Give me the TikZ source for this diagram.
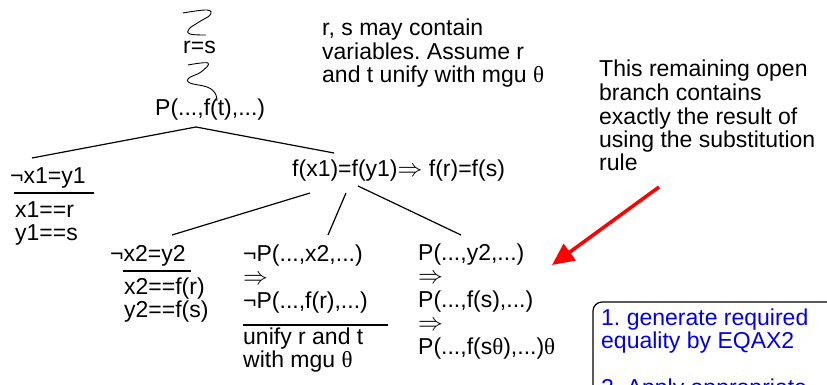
\documentclass[tikz,border=0pt]{standalone}
\usepackage{fontspec}
\setmainfont{Liberation Sans}
\newfontfamily\thetafont{Liberation Serif}
\usetikzlibrary{arrows.meta}
\definecolor{notecol}{HTML}{0000E6}
\definecolor{arrowcol}{HTML}{FF0000}
\newcommand{\thet}{{\thetafont θ}}
\newcommand{\imp}{$\Rightarrow$}
\frenchspacing

\begin{document}
\begin{tikzpicture}[x=1pt,y=-1pt,
  every node/.style={inner sep=0pt,font=\fontsize{23}{23.5}\selectfont},
  lbl/.style={anchor=base west,align=left},
  branch/.style={line width=1.2pt},
  rulebar/.style={line width=2pt},
  squig/.style={line width=0.9pt}]
\useasboundingbox (0,0) rectangle (827,385);
\clip (0,0) rectangle (827,385);
% multi-line nodes sit on the baseline of their last line

% trunk of the tableau
\node[lbl] (eq) at (183,54) {r=s};
\node[lbl] (root) at (155,116) {P(...,f(t),...)};
\draw[squig] plot[smooth,tension=0.7] coordinates {(183,13) (207,10) (210,15) (199,22) (189,29) (190,34) (206,35)};
\draw[squig] plot[smooth,tension=0.7] coordinates {(188,65) (208,63) (201,72) (189,78) (190,83) (207,87) (215,93) (217,101)};

% first split
\node[lbl] (neg1) at (10,183) {¬x1=y1};
\draw[rulebar] (14,193) -- (94,193);
\node[lbl] (sub1) at (15,240.5) {x1==r\\y1==s};
\node[lbl] (feq) at (292,176) {f(x1)=f(y1)\imp{} f(r)=f(s)};

\coordinate (apex) at (196,127);
\coordinate (l1) at (32,158);
\coordinate (r1) at (334,153);
\draw[branch] (l1) -- (apex) -- (r1);

% second split
\node[lbl] (neg2) at (110,261) {¬x2=y2};
\draw[rulebar] (123,271) -- (191,271);
\node[lbl] (sub2) at (124,317.5) {x2==f(r)\\y2==f(s)};

\node[lbl] (negP) at (243,308) {¬P(...,x2,...)\\\imp\\¬P(...,f(r),...)};
\draw[rulebar] (243,325) -- (388,325);
\node[lbl] (unif) at (243,367.5) {unify r and t\\with mgu \thet};

\node[lbl] (posP) at (418,354) {P(...,y2,...)\\\imp\\P(...,f(s),...)\\\imp\\P(...,f(s\thet),...)\thet};

\coordinate (fa) at (310,193);
\coordinate (fb) at (346,193);
\coordinate (fc) at (358,186);
\coordinate (l2) at (172,235);
\coordinate (m2) at (328,235);
\coordinate (r2) at (461,235);
\draw[branch] (fa) -- (l2);
\draw[branch] (fb) -- (m2);
\draw[branch] (fc) -- (r2);

% comments
\node[lbl] (note1) at (322,83) {r, s may contain\\variables. Assume r\\and t unify with mgu \thet};
\node[lbl] (note2) at (599,171) {This remaining open\\branch contains\\exactly the result of\\using the substitution\\rule};

\coordinate (tail) at (659,187);
\coordinate (tip) at (552,265);
\draw[arrowcol,line width=3.5pt,-{Triangle[length=22pt,width=20pt]}] (tail) -- (tip);

\draw[line width=1.2pt,rounded corners=9pt] (593,302) rectangle (860,430);
\node[lbl,text=notecol] (steps) at (601,395.5) {1. generate required\\equality by EQAX2\\[23.5pt]2. Apply appropriate};
\end{tikzpicture}
\end{document}
